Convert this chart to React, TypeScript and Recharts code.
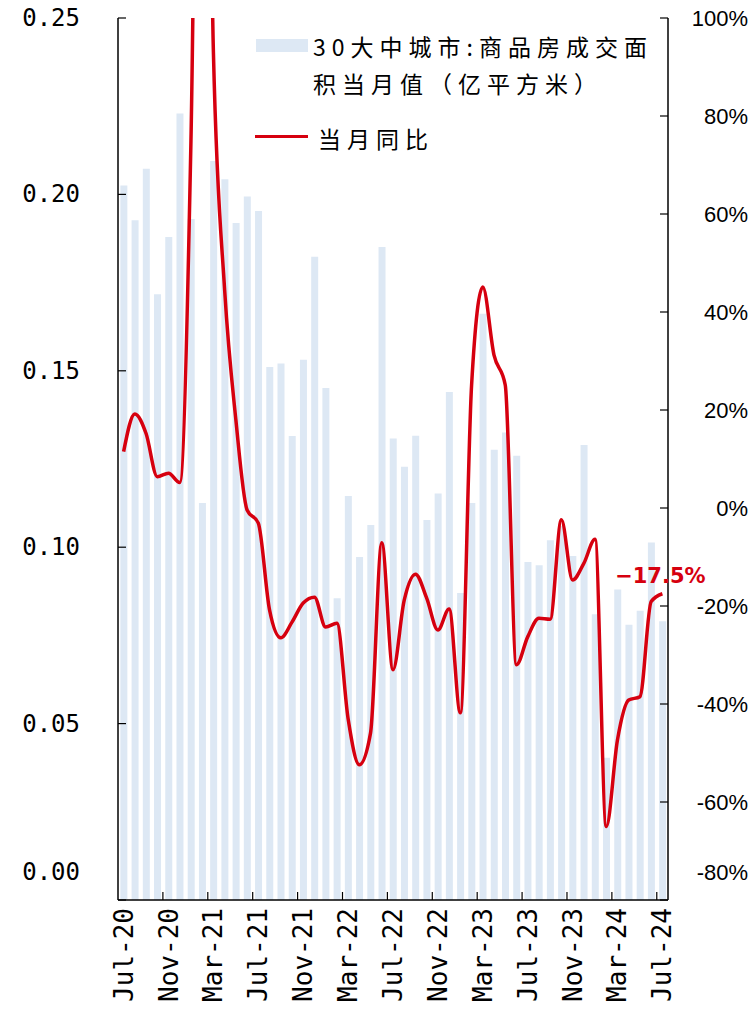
import React from "react";
import { Bar, ComposedChart, Legend, Line, XAxis, YAxis } from "recharts";

// 月份（2020-07 ~ 2024-07）
const months = [
  "Jul-20", "Aug-20", "Sep-20", "Oct-20", "Nov-20", "Dec-20",
  "Jan-21", "Feb-21", "Mar-21", "Apr-21", "May-21", "Jun-21",
  "Jul-21", "Aug-21", "Sep-21", "Oct-21", "Nov-21", "Dec-21",
  "Jan-22", "Feb-22", "Mar-22", "Apr-22", "May-22", "Jun-22",
  "Jul-22", "Aug-22", "Sep-22", "Oct-22", "Nov-22", "Dec-22",
  "Jan-23", "Feb-23", "Mar-23", "Apr-23", "May-23", "Jun-23",
  "Jul-23", "Aug-23", "Sep-23", "Oct-23", "Nov-23", "Dec-23",
  "Jan-24", "Feb-24", "Mar-24", "Apr-24", "May-24", "Jun-24",
  "Jul-24",
];

// 30大中城市商品房成交面积当月值（亿平方米）
const area = [
  0.2025, 0.1927, 0.2073, 0.1717, 0.1879, 0.2229,
  0.193, 0.1125, 0.2095, 0.2043, 0.1919, 0.1994,
  0.1953, 0.1511, 0.1521, 0.1315, 0.1531, 0.1823,
  0.1451, 0.0855, 0.1145, 0.0972, 0.1063, 0.1851,
  0.1308, 0.1228, 0.1316, 0.1077, 0.1152, 0.144,
  0.087, 0.1125, 0.1662, 0.1276, 0.1325, 0.1259,
  0.0958, 0.0949, 0.102, 0.106, 0.0975, 0.129,
  0.081, 0.0403, 0.088, 0.078, 0.082, 0.1013,
  0.079,
];

// 当月同比（%）
const yoy = [
  11.5, 19.2, 15.2, 6.4, 7.1, 5.2,
  75, 230, 93, 44.5, 18, -0.4,
  -3.1, -20.8, -26.5, -23.3, -19.4, -18.2,
  -24.3, -23.5, -43, -52.4, -45.9, -7.1,
  -33, -18.8, -13.5, -18.4, -24.9, -20.6,
  -41.8, 25, 45.1, 31.2, 25.1, -32,
  -26.3, -22.5, -22.7, -2.4, -14.7, -11.3,
  -6.4, -65, -47.3, -39.2, -38.5, -19.1,
  -17.5,
];

const leftTicks = [0, 0.05, 0.1, 0.15, 0.2, 0.25];
const rightTicks = [-80, -60, -40, -20, 0, 20, 40, 60, 80, 100];

const barName = "30大中城市:商品房成交面积当月值（亿平方米）";
const lineName = "当月同比";

const data = months.map((m, i) => ({ month: m, area: area[i], yoy: yoy[i] }));

const W = 755;
const H = 1010;
const LEFT_W = 118;
const RIGHT_W = 87;
const BAND = (W - LEFT_W - RIGHT_W) / months.length;
const BAR_COLOR = "#dde8f4";
const RED = "#d6000f";

function MonthTick(props: any) {
  const { x, y, payload, index } = props;
  const tx = x - BAND / 2;
  return (
    <g>
      {index > 0 && <line x1={tx} x2={tx} y1={y} y2={y - 8} stroke="#000" strokeWidth={1.2} />}
      <text
        x={x}
        y={y + 8}
        transform={`rotate(-90 ${x} ${y + 8})`}
        textAnchor="end"
        dominantBaseline="central"
        fontFamily="DejaVu Sans Mono"
        fontSize={26}
        fill="#000"
      >
        {payload.value}
      </text>
    </g>
  );
}

function LeftTick(props: any) {
  const { x, y, payload } = props;
  const v = payload.value as number;
  const ly = v === 0 ? y - 28 : y;
  return (
    <g>
      <line x1={x} x2={x + 8} y1={y} y2={y} stroke="#000" strokeWidth={1.2} />
      <text x={x - 38} y={ly} textAnchor="end" dominantBaseline="central"
        fontFamily="DejaVu Sans Mono" fontSize={24} fill="#000">
        {v.toFixed(2)}
      </text>
    </g>
  );
}

function RightTick(props: any) {
  const { x, y, payload } = props;
  const v = payload.value as number;
  const ly = v === -80 ? y - 28 : y;
  return (
    <g>
      <line x1={x} x2={x - 8} y1={y} y2={y} stroke="#000" strokeWidth={1.2} />
      <text x={x + 80} y={ly} textAnchor="end" dominantBaseline="central"
        fontFamily="Liberation Sans" fontSize={22} fill="#000">
        {`${v}%`}
      </text>
    </g>
  );
}

function EndLabel(props: any) {
  const { x, y, index } = props;
  if (index !== yoy.length - 1) return null;
  const txt = `${yoy[index].toFixed(1)}%`.replace("-", "−");
  return (
    <text x={x - 2} y={y - 11} textAnchor="middle" fill={RED} fontWeight="bold"
      fontFamily="DejaVu Sans" fontSize={21}>
      {txt}
    </text>
  );
}

function LegendBox() {
  const text: React.CSSProperties = {
    position: "absolute",
    whiteSpace: "nowrap",
    lineHeight: "37px",
    color: "#000",
  };
  return (
    <div style={{ position: "relative", width: 440, height: 140, fontFamily: '"Noto Sans CJK SC"', fontSize: 23 }}>
      <div style={{ position: "absolute", left: 6, top: 17, width: 52, height: 13, background: BAR_COLOR }} />
      <div style={{ ...text, left: 63, top: 5.5, letterSpacing: 6 }}>
        30大中城市:商品房成交面<br />积当月值（亿平方米）
      </div>
      <div style={{ position: "absolute", left: 5, top: 112.5, width: 53, height: 3.5, background: RED }} />
      <div style={{ ...text, left: 68, top: 97.5, letterSpacing: 6 }}>{lineName}</div>
    </div>
  );
}

export default function App() {
  return (
    <div style={{ position: "absolute", left: 0, top: 0, background: "#fff" }}>
      <ComposedChart
        width={W}
        height={H}
        data={data}
        margin={{ top: 18, right: 0, bottom: 0, left: 0 }}
        barCategoryGap="21%"
      >
        <XAxis
          dataKey="month"
          interval={3}
          height={110}
          tickSize={0}
          tickMargin={0}
          tickLine={false}
          axisLine={{ stroke: "#000", strokeWidth: 1.5 }}
          tick={<MonthTick />}
        />
        <YAxis
          yAxisId="left"
          orientation="left"
          width={LEFT_W}
          domain={[0, 0.25]}
          ticks={leftTicks}
          interval={0}
          tickSize={0}
          tickMargin={0}
          tickLine={false}
          axisLine={{ stroke: "#000", strokeWidth: 1.5 }}
          tick={<LeftTick />}
        />
        <YAxis
          yAxisId="right"
          orientation="right"
          width={RIGHT_W}
          domain={[-80, 100]}
          ticks={rightTicks}
          allowDataOverflow
          interval={0}
          tickSize={0}
          tickMargin={0}
          tickLine={false}
          axisLine={{ stroke: "#000", strokeWidth: 1.5 }}
          tick={<RightTick />}
        />
        <Legend
          layout="vertical"
          align="center"
          verticalAlign="middle"
          wrapperStyle={{ left: 250, top: 22, width: 440, height: 140 }}
          content={() => <LegendBox />}
        />
        <Bar yAxisId="left" dataKey="area" name={barName} fill={BAR_COLOR} isAnimationActive={false} />
        <Line
          yAxisId="right"
          dataKey="yoy"
          name={lineName}
          type="monotone"
          stroke={RED}
          strokeWidth={3.5}
          dot={false}
          activeDot={false}
          isAnimationActive={false}
          label={<EndLabel />}
        />
      </ComposedChart>
    </div>
  );
}
